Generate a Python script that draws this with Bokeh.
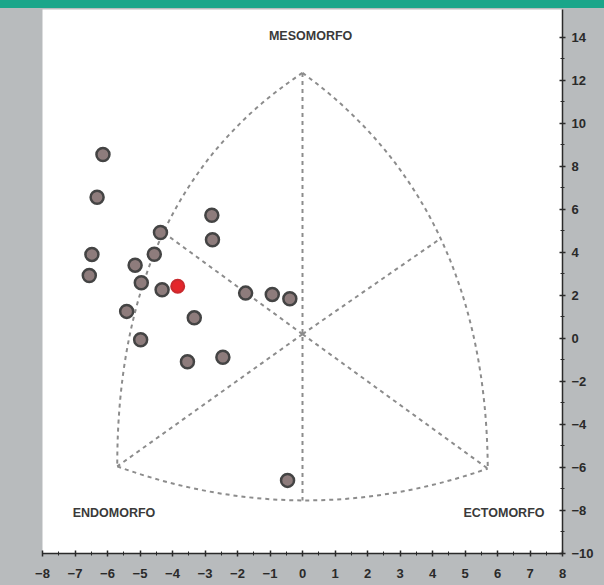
from bokeh.plotting import figure
from bokeh.models import Range1d, LinearAxis, FixedTicker, GlobalInlineStyleSheet
from bokeh.embed import file_html
from bokeh.resources import INLINE
from bokeh.core.properties import value

# --- data ---
x_pts = [-6.14, -6.32, -6.48, -6.56, -2.79, -2.77, -4.37, -4.56, -5.15, -4.96,
         -4.32, -5.41, -4.98, -3.33, -3.54, -2.45, -1.75, -0.93, -0.39, -0.46]
y_pts = [8.56, 6.57, 3.91, 2.93, 5.73, 4.59, 4.93, 3.92, 3.41, 2.59,
         2.27, 1.26, -0.06, 0.96, -1.08, -0.87, 2.11, 2.05, 1.85, -6.60]
x_highlight = [-3.84]
y_highlight = [2.43]

x_ticks = list(range(-8, 9))
x_minor = [i / 2 for i in range(-16, 17)]
y_ticks = list(range(-10, 15, 2))
y_minor = list(range(-10, 15))

corner_labels = ["MESOMORFO", "ENDOMORFO", "ECTOMORFO"]

# somatochart frame geometry (in data units)
apex = (0.0, 12.35)
endo = (-5.7, -5.95)
ecto = (5.7, -6.05)
center = (0.0, 0.2)
left_mid = (-4.28, 4.93)
right_mid = (4.25, 4.65)
bottom_mid = (0.0, -7.53)


def ctrl(p0, p2, m):
    return (2 * m[0] - (p0[0] + p2[0]) / 2, 2 * m[1] - (p0[1] + p2[1]) / 2)


GRAY_BG = "#b8bbbd"
TEAL = "#1aa68a"
css = GlobalInlineStyleSheet(css=(
    "html, body { background: linear-gradient(to bottom, " + TEAL + " 0px, " + TEAL + " 8px, "
    + GRAY_BG + " 8px, " + GRAY_BG + " 100%); overflow: hidden; }"))

p = figure(width=604, height=585, output_backend="svg", toolbar_location=None,
           x_range=Range1d(-8, 8), y_range=Range1d(-10, 15.3),
           x_axis_location=None, y_axis_location=None,
           min_border_left=42, min_border_right=42, min_border_top=9, min_border_bottom=32,
           background_fill_color="white", border_fill_color=None,
           outline_line_color=None)
p.stylesheets = [css]
p.grid.visible = False

def style_axis(ax, standoff):
    ax.axis_line_color = "#2a2a2a"
    ax.axis_line_width = 1.5
    ax.major_tick_line_color = "#2a2a2a"
    ax.minor_tick_line_color = "#2a2a2a"
    ax.major_tick_line_width = 1.5
    ax.major_tick_in = 3
    ax.major_tick_out = 3
    ax.minor_tick_in = 2
    ax.minor_tick_out = 2
    ax.major_label_text_font = "Liberation Sans"
    ax.major_label_text_font_style = "bold"
    ax.major_label_text_font_size = "13px"
    ax.major_label_text_color = "#2a2a2a"
    ax.major_label_standoff = standoff

xa = LinearAxis(ticker=FixedTicker(ticks=x_ticks, minor_ticks=x_minor))
style_axis(xa, 12)
p.add_layout(xa, "below")
ya = LinearAxis(ticker=FixedTicker(ticks=y_ticks, minor_ticks=y_minor))
style_axis(ya, 6)
p.add_layout(ya, "right")

dash = dict(line_color="#8c8c8c", line_width=2, line_dash="4 4")

# outer curved sides
for a, b, m in [(apex, endo, left_mid), (apex, ecto, right_mid), (endo, ecto, bottom_mid)]:
    c = ctrl(a, b, m)
    p.quadratic(x0=[a[0]], y0=[a[1]], x1=[b[0]], y1=[b[1]], cx=[c[0]], cy=[c[1]], **dash)

# inner axes
p.segment(x0=[apex[0]], y0=[apex[1]], x1=[bottom_mid[0]], y1=[bottom_mid[1]], **dash)
for q in [left_mid, right_mid, endo, ecto]:
    p.segment(x0=[center[0]], y0=[center[1]], x1=[q[0]], y1=[q[1]], **dash)

# points
p.scatter(x_pts, y_pts, size=13, fill_color="#8e7c7c", line_color="#444444", line_width=2.5)
p.scatter(x_highlight, y_highlight, size=13, fill_color="#e5262b", line_color="#c92a2e", line_width=2)

# corner labels
p.text(x=[0.25, -5.8, 6.2], y=[14.05, -8.1, -8.1], text=corner_labels,
       text_font=value("Liberation Sans"), text_font_style="bold", text_font_size="12.5px",
       text_color="#3a3a3a", text_align="center", text_baseline="middle")

open("out.html", "w").write(file_html(p, INLINE))
